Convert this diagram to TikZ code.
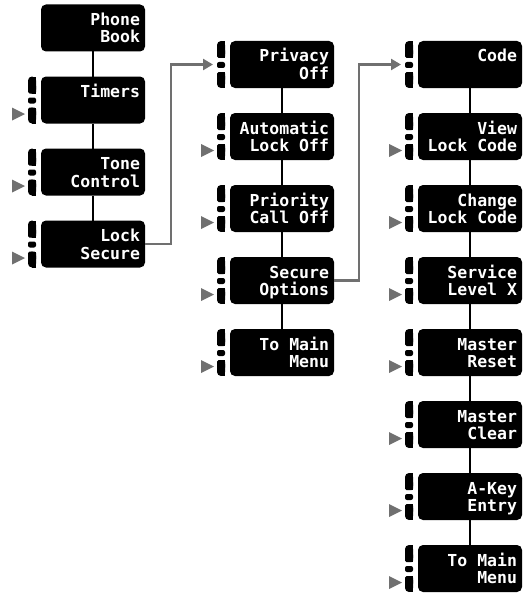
\documentclass[tikz,border=0pt]{standalone}
\usepackage{fontspec}
\newfontfamily\lcdfont{DejaVu Sans Mono Bold}
\usetikzlibrary{arrows.meta}
\definecolor{keygray}{RGB}{112,112,112}
\newcommand\twoline[2]{\parbox[t][47pt][t]{94pt}{\lcdfont\fontsize{16.5}{17.5}\selectfont\raggedleft\rule{0pt}{21pt}#1\\#2}}
\newcommand\oneline[1]{\parbox[t][47pt][t]{94pt}{\lcdfont\fontsize{16.5}{17.5}\selectfont\raggedleft\rule{0pt}{21pt}#1}}
\newcommand\softkey[1]{%
  \begin{scope}[shift={(#1.north west)}]
    \fill[rounded corners=4pt] (-13,0) rectangle (-5,17);
    \fill (-9,0) rectangle (-5,17);
    \fill[rounded corners=1.5pt] (-13,8) rectangle (-5,17);
    \fill[rounded corners=2pt] (-13,21) rectangle (-5,27);
    \fill[rounded corners=4pt] (-13,31) rectangle (-5,47);
    \fill (-9,31) rectangle (-5,47);
    \fill[rounded corners=1.5pt] (-13,31) rectangle (-5,40);
  \end{scope}}
\newcommand\softarrow[1]{%
  \fill[keygray] ([shift={(-29,31)}]#1.north west) -- ([shift={(-16,37.5)}]#1.north west) -- ([shift={(-29,44)}]#1.north west) -- cycle;}
\tikzset{
  menubox/.style={fill=black, text=white, rounded corners=5pt, inner xsep=5pt, inner ysep=0pt, anchor=north west, outer sep=0pt},
  conn/.style={draw=black, line width=1.5pt},
  garrow/.style={draw=keygray, line width=2.6pt, -{Triangle[length=10pt,width=11pt]}}
}
\begin{document}
\begin{tikzpicture}[x=1pt,y=-1pt]
\useasboundingbox (0,0) rectangle (525,594);
% column 1
\node[menubox] (pb) at (41,4.5) {\twoline{Phone}{Book}};
\node[menubox] (tm) at (41,76.5) {\oneline{Timers}};
\node[menubox] (tc) at (41,148.5) {\twoline{Tone}{Control}};
\node[menubox] (ls) at (41,220.5) {\twoline{Lock}{Secure}};
% column 2
\node[menubox] (po) at (230,41) {\twoline{Privacy}{Off}};
\node[menubox] (al) at (230,113) {\twoline{Automatic}{Lock Off}};
\node[menubox] (pc) at (230,185) {\twoline{Priority}{Call Off}};
\node[menubox] (so) at (230,257) {\twoline{Secure}{Options}};
\node[menubox] (ma) at (230,329) {\twoline{To Main}{Menu}};
% column 3
\node[menubox] (cd) at (418,41) {\oneline{Code}};
\node[menubox] (vl) at (418,113) {\twoline{View}{Lock Code}};
\node[menubox] (cl) at (418,185) {\twoline{Change}{Lock Code}};
\node[menubox] (sl) at (418,257) {\twoline{Service}{Level X}};
\node[menubox] (mr) at (418,329) {\twoline{Master}{Reset}};
\node[menubox] (mc) at (418,401) {\twoline{Master}{Clear}};
\node[menubox] (ak) at (418,473) {\twoline{A-Key}{Entry}};
\node[menubox] (mb) at (418,545) {\twoline{To Main}{Menu}};
% vertical connectors
\draw[conn] (pb) -- (tm);
\draw[conn] (tm) -- (tc);
\draw[conn] (tc) -- (ls);
\draw[conn] (po) -- (al);
\draw[conn] (al) -- (pc);
\draw[conn] (pc) -- (so);
\draw[conn] (so) -- (ma);
\draw[conn] (cd) -- (vl);
\draw[conn] (vl) -- (cl);
\draw[conn] (cl) -- (sl);
\draw[conn] (sl) -- (mr);
\draw[conn] (mr) -- (mc);
\draw[conn] (mc) -- (ak);
\draw[conn] (ak) -- (mb);
% soft keys
\foreach \n in {tm,tc,ls,po,al,pc,so,ma,cd,vl,cl,sl,mr,mc,ak,mb} {\softkey{\n}}
\foreach \n in {tm,tc,ls,al,pc,so,ma,vl,cl,sl,mr,mc,ak,mb} {\softarrow{\n}}
% gray arrows
\coordinate (poin) at ([xshift=-17pt]po.west);
\coordinate (cdin) at ([xshift=-17pt]cd.west);
\draw[garrow] (ls.east) -- ++(26,0) |- (poin);
\draw[garrow] (so.east) -- ++(25,0) |- (cdin);
\end{tikzpicture}
\end{document}
